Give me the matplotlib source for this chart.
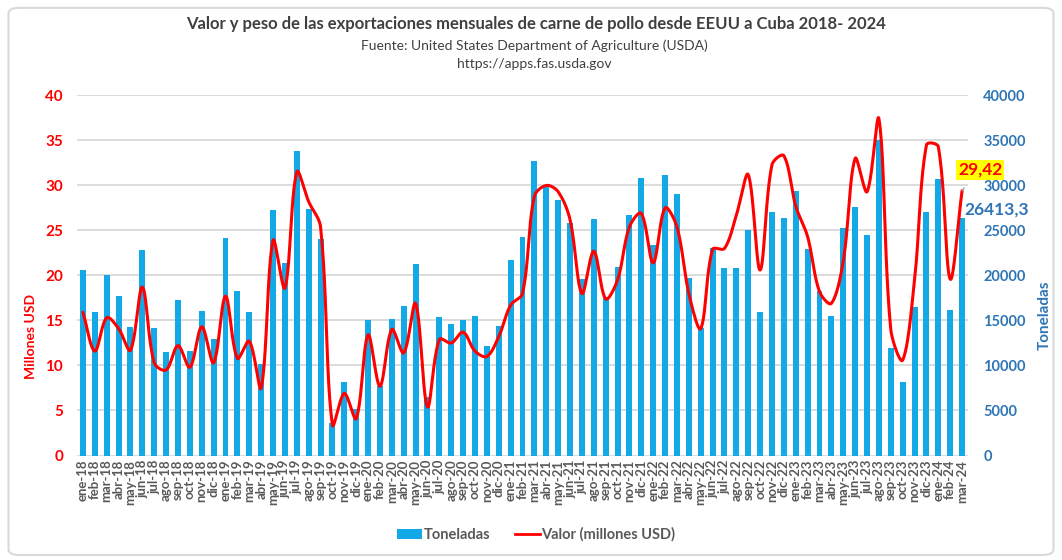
import numpy as np
import matplotlib
matplotlib.use("Agg")
import matplotlib.pyplot as plt
from matplotlib.patches import FancyBboxPatch, Patch
from matplotlib.lines import Line2D

plt.rcParams['font.family'] = ['Lato', 'DejaVu Sans']

months = ["ene", "feb", "mar", "abr", "may", "jun", "jul", "ago", "sep", "oct", "nov", "dic"]
labels = [f"{m}-{y}" for y in range(18, 24) for m in months] + ["ene-24", "feb-24", "mar-24"]

toneladas = [
    20590, 15900, 20040, 17740, 14300, 22800, 14160, 11500, 17230, 11610, 16040, 12940,
    24180, 18300, 15900, 10170, 27250, 21370, 33790, 27360, 24030, 3660, 8170, 5210,
    15080, 7700, 15200, 16560, 21260, 6540, 15380, 14570, 15010, 15490, 12160, 14420,
    21740, 24290, 32720, 29830, 28430, 25840, 19590, 26320, 17600, 20960, 26690, 30830,
    23360, 31200, 29090, 19740, 14120, 23070, 20810, 20810, 25100, 15930, 27100, 26430,
    29390, 22920, 18300, 15490, 25250, 27620, 24440, 35090, 11900, 8170, 16530, 27100,
    30690, 16160, 26413.3,
]

valor = [
    15.9, 11.6, 15.3, 14.1, 11.7, 18.7, 10.3, 9.5, 12.2, 9.8, 14.3, 10.3,
    17.7, 10.8, 12.7, 7.5, 23.9, 18.6, 31.5, 28.2, 25.4, 3.4, 6.9, 4.1,
    13.4, 7.7, 14.0, 11.4, 16.9, 5.4, 12.9, 12.5, 13.7, 11.6, 11.0, 13.2,
    16.7, 18.0, 28.8, 30.0, 29.3, 26.2, 18.0, 22.7, 17.4, 19.5, 25.4, 26.9,
    21.4, 27.5, 25.4, 18.0, 14.1, 22.9, 23.0, 26.7, 31.2, 20.6, 32.3, 33.3,
    27.7, 24.3, 18.2, 16.9, 21.6, 33.0, 29.3, 37.4, 14.0, 10.6, 19.5, 34.5,
    34.3, 19.6, 29.42,
]

left_ticks = [0, 5, 10, 15, 20, 25, 30, 35, 40]
right_ticks = [0, 5000, 10000, 15000, 20000, 25000, 30000, 35000, 40000]

BAR = "#12A9E6"
RED = "#FF0000"
BLUE = "#2E75B6"
GREY = "#595959"


def smooth(x, y, sx=11.88, sy=9.0, n=24):
    # Excel-style smoothed line: cubic Bezier through every point, tangent
    # lengths split according to neighbouring segment lengths on screen
    P = np.column_stack([np.asarray(x, float) * sx, np.asarray(y, float) * sy])
    N = len(P)
    d = np.linalg.norm(np.diff(P, axis=0), axis=1)
    out = []
    for i in range(N - 1):
        p0, p3 = P[i], P[i + 1]
        if i > 0:
            t0 = (P[i + 1] - P[i - 1]) * d[i] / (d[i - 1] + d[i]) / 3.0
        else:
            t0 = (P[i + 1] - P[i]) / 3.0
        if i + 2 < N:
            t1 = (P[i + 2] - P[i]) * d[i] / (d[i] + d[i + 1]) / 3.0
        else:
            t1 = (P[i + 1] - P[i]) / 3.0
        c1 = p0 + t0
        c2 = p3 - t1
        t = np.linspace(0, 1, n, endpoint=(i == N - 2))[:, None]
        pts = ((1 - t) ** 3) * p0 + 3 * ((1 - t) ** 2) * t * c1 + 3 * (1 - t) * t ** 2 * c2 + t ** 3 * p3
        out.append(pts)
    pts = np.vstack(out)
    return pts[:, 0] / sx, pts[:, 1] / sy


fig = plt.figure(figsize=(10.62, 5.6), dpi=100)
fig.patches.append(FancyBboxPatch((0.008, 0.009), 0.984, 0.977, boxstyle="round,pad=0,rounding_size=0.01",
                                  transform=fig.transFigure, facecolor="white", edgecolor="#D9D9D9",
                                  linewidth=1.5, zorder=-10))

ax = fig.add_axes([0.0725, 0.1866, 0.8390, 0.6430])
ax2 = ax.twinx()
ax.set_zorder(ax2.get_zorder() + 1)
ax.patch.set_visible(False)

x = np.arange(len(labels))
ax2.bar(x, toneladas, width=0.5, color=BAR, zorder=2)
ax2.set_ylim(0, 40000)
ax2.set_yticks(right_ticks)
ax2.set_yticklabels([str(t) for t in right_ticks])

sx, sy = smooth(x, valor)
ax.plot(sx, sy, color=RED, linewidth=2.2, solid_capstyle="round", zorder=5)
ax.set_ylim(0, 40)
ax.set_yticks(left_ticks)
ax.set_xlim(-0.5, len(labels) - 0.5)
ax.set_xticks(x)
ax.set_xticklabels(labels, rotation=90)

for a in (ax, ax2):
    for s in a.spines.values():
        s.set_visible(False)

ax2.grid(axis="y", color="#D9D9D9", linewidth=1.3, zorder=0)
ax2.set_axisbelow(True)
ax.grid(False)

ax.tick_params(axis="y", length=0, pad=10, labelsize=11, labelcolor=RED)
ax.tick_params(axis="x", length=0, pad=3, labelsize=9.5, labelcolor=GREY)
ax2.tick_params(axis="y", length=0, pad=11, labelsize=10.5, labelcolor=BLUE)
for lab in ax.get_yticklabels() + ax.get_xticklabels() + ax2.get_yticklabels():
    lab.set_fontweight("bold")

ax.set_ylabel("Millones USD", color=RED, fontsize=10, fontweight="bold")
ax.yaxis.set_label_coords(-0.045, 0.33)
ax2.set_ylabel("Toneladas", color=BLUE, fontsize=11, fontweight="bold")
ax2.yaxis.set_label_coords(1.078, 0.39)

# data labels for the last month
last = len(labels) - 1
ax.annotate("29,42", xy=(last, valor[-1]), xytext=(13, 15), textcoords="offset points",
            ha="center", va="center", color=RED, fontsize=12.5, fontweight="bold",
            bbox=dict(boxstyle="square,pad=0.1", facecolor="#FFFF00", edgecolor="none"),
            arrowprops=dict(arrowstyle="-", color="#A6A6A6", linewidth=1,
                            shrinkA=8, shrinkB=0), zorder=10)
ax2.annotate("26413,3", xy=(last, toneladas[-1]), xytext=(2, 6), textcoords="offset points",
             ha="left", va="center", color=BLUE, fontsize=12.5, fontweight="bold")

fig.text(0.505, 0.958, "Valor y peso de las exportaciones mensuales de carne de pollo desde EEUU a Cuba 2018- 2024",
         ha="center", va="center", fontsize=12, fontweight="bold", color="#404040")
fig.text(0.503, 0.919, "Fuente: United States Department of Agriculture (USDA)",
         ha="center", va="center", fontsize=10, color="#404040")
fig.text(0.503, 0.886, "https://apps.fas.usda.gov",
         ha="center", va="center", fontsize=10, color="#404040")

handles = [Patch(facecolor=BAR, edgecolor="none"),
           Line2D([0], [0], color=RED, linewidth=2)]
leg = fig.legend(handles, ["Toneladas", "Valor (millones USD)"], loc="center",
                 bbox_to_anchor=(0.505, 0.045), ncol=2, frameon=False,
                 handlelength=1.7, handleheight=0.6, columnspacing=1.7, handletextpad=0.1,
                 prop=dict(size=10.5, weight="bold"))
for t in leg.get_texts():
    t.set_color(GREY)

fig.savefig("out.png", dpi=100)
